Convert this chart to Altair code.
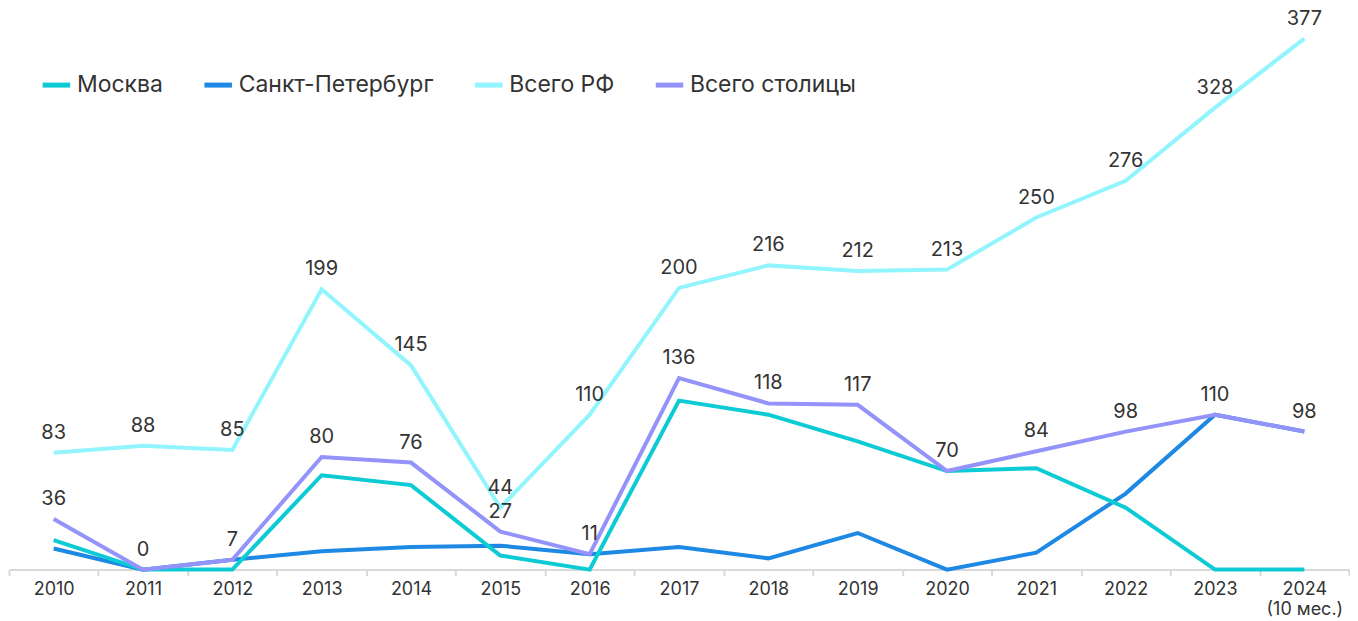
import altair as alt
import pandas as pd

years = ["2010", "2011", "2012", "2013", "2014", "2015", "2016", "2017",
         "2018", "2019", "2020", "2021", "2022", "2023", "2024\n(10 мес.)"]
moscow = [21, 0, 0, 67, 60, 10, 0, 120, 110, 91, 70, 72, 44, 0, 0]
spb = [15, 0, 7, 13, 16, 17, 11, 16, 8, 26, 0, 12, 54, 110, 98]
total_rf = [83, 88, 85, 199, 145, 44, 110, 200, 216, 212, 213, 250, 276, 328, 377]
capitals = [36, 0, 7, 80, 76, 27, 11, 136, 118, 117, 70, 84, 98, 110, 98]

series_names = ["Москва", "Санкт-Петербург", "Всего РФ", "Всего столицы"]
series_colors = ["#0ccbd4", "#1e88e5", "#92f4fd", "#9393f9"]
series_values = [moscow, spb, total_rf, capitals]
labelled = ["Всего РФ", "Всего столицы"]
draw_order = ["Всего РФ", "Санкт-Петербург", "Москва", "Всего столицы"]

rows = []
for name, vals in zip(series_names, series_values):
    for y, v in zip(years, vals):
        rows.append({"year": y, "series": name, "value": v})
df = pd.DataFrame(rows)

FONT = "Inter"

x_enc = alt.X("year:N", sort=years, bandPosition=0.5,
              scale=alt.Scale(type="band", paddingInner=0, paddingOuter=0),
              axis=alt.Axis(title=None, labelAngle=0, tickBand="extent",
                            labelExpr="split(datum.label, '\\n')",
                            labelFontSize=18, labelColor="#333333", labelFont=FONT,
                            labelLineHeight=20, labelPadding=5,
                            domainColor="#d9d9d9", domainWidth=2,
                            tickColor="#d9d9d9", tickWidth=2, tickSize=6))
y_enc = alt.Y("value:Q", scale=alt.Scale(domain=[0, 397], nice=False, zero=True),
              axis=None)
color_enc = alt.Color("series:N",
                      scale=alt.Scale(domain=series_names, range=series_colors),
                      legend=alt.Legend(title=None, orient="none", direction="horizontal",
                                        legendX=31, legendY=58,
                                        symbolType="stroke", symbolSize=760,
                                        symbolStrokeWidth=5, labelFontSize=23,
                                        labelFont=FONT, labelColor="#333333",
                                        labelLimit=500,
                                        labelOffset=4, columnPadding=30))

layers = []
for name in draw_order:
    layers.append(
        alt.Chart(df).transform_filter(alt.datum.series == name)
        .mark_line(strokeWidth=4, strokeJoin="miter")
        .encode(x=x_enc, y=y_enc, color=color_enc)
    )

text = (alt.Chart(df)
        .transform_filter(alt.FieldOneOfPredicate(field="series", oneOf=labelled))
        .mark_text(fontSize=20, font=FONT, color="#333333", baseline="middle", dy=-20)
        .encode(x=x_enc, y=y_enc, text="value:Q"))

chart = (alt.layer(*layers, text)
         .properties(width=1342, height=560, padding=0)
         .configure_view(stroke=None))

chart.save("out.html", embed_options={"renderer": "svg", "actions": False})
